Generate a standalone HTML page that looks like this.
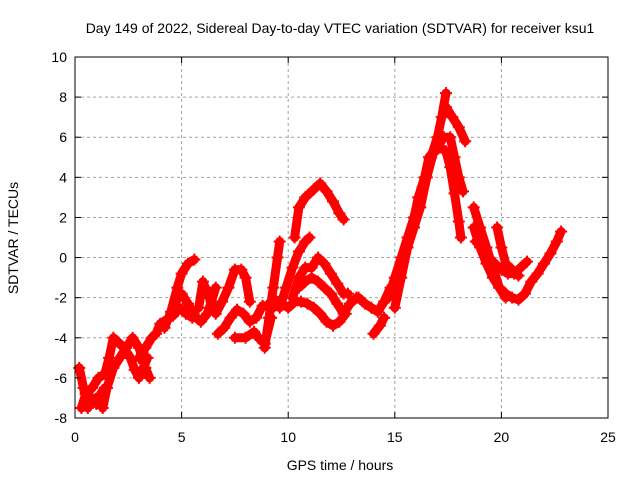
<!DOCTYPE html>
<html><head><meta charset="utf-8"><style>
body{margin:0;background:#fff}
svg{display:block;font-family:"Liberation Sans",sans-serif}
</style></head><body>
<svg id="chart" width="640" height="480">
<rect width="640" height="480" fill="#fff"/>
<text x="340" y="33" font-size="14" text-anchor="middle">Day 149 of 2022, Sidereal Day-to-day VTEC variation (SDTVAR) for receiver ksu1</text>
<text x="340" y="470" font-size="14" text-anchor="middle">GPS time / hours</text>
<text transform="translate(18,238) rotate(-90)" font-size="14" text-anchor="middle">SDTVAR / TECUs</text>
<g id="grid"></g><g id="series"></g><g id="axes"></g>
</svg>
<script>
const xTicks=[0,5,10,15,20,25];
const yTicks=[-8,-6,-4,-2,0,2,4,6,8,10];
const trackTimes=[
[0.2,0.4,0.6,0.8,1.0,1.2,1.4],
[0.3,0.5,0.8,1.1,1.4,1.6,1.8,2.0,2.3,2.6,2.8,3.0,3.2,3.4],
[1.3,1.5,1.8,2.1,2.4,2.7,3.0,3.3,3.5],
[3.0,3.3,3.6,3.8,4.0,4.3,4.6,4.9,5.2,5.5],
[4.2,4.5,4.8,5.0,5.3,5.6],
[4.6,4.8,5.0,5.3,5.6,5.9,6.2,6.4,6.6],
[5.8,6.0,6.3,6.6,6.9,7.2,7.5,7.8,8.0,8.2],
[6.7,7.0,7.3,7.6,7.9,8.2,8.5,8.8,9.0,9.3],
[7.5,8.0,8.4,8.6,8.9,9.2],
[8.9,9.1,9.3,9.5,9.6],
[9.4,9.7,10.0,10.3,10.6,10.9,11.2,11.5,11.8,12.1,12.4,12.7],
[10.3,10.5,10.8,11.2,11.5,11.8,12.1,12.4,12.6],
[9.6,9.9,10.2,10.5,10.8,11.0],
[10.2,10.5,10.8,11.1,11.4,11.7,12.0,12.3,12.6,12.8],
[10.5,10.8,11.1,11.4,11.7,12.0,12.3,12.6,12.9,13.2],
[13.3,13.6,13.9,14.2,14.5,14.8],
[14.0,14.3,14.5],
[14.7,15.0,15.3,15.6,15.9,16.1,16.4,16.7,17.0,17.2,17.4],
[15.0,15.3,15.6,15.9,16.2,16.5,16.8,17.1,17.4,17.6,17.8,18.0,18.1],
[16.3,16.6,17.0,17.3,17.6,17.8,18.0,18.2],
[17.4,17.7,18.0,18.3],
[18.7,19.0,19.3,19.6,19.9,20.2],
[18.7,19.0,19.3,19.6,19.9,20.2,20.5,20.8,21.1,21.4,21.7,22.0,22.3,22.6,22.8],
[18.8,19.1,19.4,19.7,20.0,20.3,20.6,20.9,21.2],
[19.8,20.0,20.2,20.5,20.8]
];
const trackValues=[
[-5.5,-6.5,-7.5,-7,-7.3,-6.8,-6.5],
[-7.5,-6.8,-6.5,-6,-5.8,-5,-4,-4.2,-4.5,-5,-5.6,-6,-5.5,-5],
[-7.5,-6.5,-5.5,-5,-4.5,-4,-4.5,-5.5,-6],
[-5,-4.5,-4,-3.8,-3.3,-3.1,-2.9,-2.5,-2.8,-3.0],
[-3.5,-2.7,-1.5,-0.8,-0.3,-0.1],
[-2.8,-2,-1.8,-2.3,-2.9,-3.2,-2.8,-2.2,-1.5],
[-2.5,-1.2,-2,-2.8,-2.2,-1.5,-0.6,-0.6,-1.0,-2.2],
[-3.8,-3.5,-3,-2.6,-2.8,-3.2,-3,-2.4,-2.4,-2.5],
[-4.0,-4.0,-3.7,-4,-4.3,-3],
[-4.5,-3,-1.5,0,0.8],
[-2.1,-2.3,-2.5,-2.2,-2.2,-2.3,-2.5,-2.8,-3.2,-3.4,-3.2,-2.8],
[1.0,2.5,3.0,3.4,3.7,3.3,2.8,2.2,1.9],
[-2.5,-1.5,-0.5,0.3,0.8,1.0],
[-2.0,-1.0,-0.5,-0.5,0.0,-0.3,-0.8,-1.3,-1.8,-1.8],
[-1.5,-1.2,-1.0,-1.2,-1.5,-1.8,-2.3,-2.8,-2.3,-2.0],
[-2.0,-2.3,-2.5,-2.7,-2.2,-1.5],
[-3.8,-3.4,-3],
[-2.0,-1.0,0,1.0,2.0,3.0,4.0,5.0,6.0,7.0,8.2],
[-2.5,-1.0,0.5,1.5,2.5,4.0,5.2,5.5,5.3,4.5,3.2,1.8,1.0],
[3.5,5.0,5.5,6.0,6.0,5.0,4.0,3.3],
[7.5,7.0,6.5,5.8],
[2.5,1.5,0.5,-0.5,-1.5,-2.0],
[1.5,0.5,-0.3,-1,-1.5,-1.8,-2.0,-2.1,-1.8,-1.2,-0.8,-0.3,0.2,0.8,1.3],
[0.8,0.5,0,-0.3,-0.6,-0.8,-0.8,-0.5,-0.2],
[1.5,0.5,-0.3,-0.6,-0.9]
];
const L=75,R=608,T=57,B=418;
const sx=t=>L+(t-0)/(25-0)*(R-L);
const sy=v=>B-(v+8)/(10+8)*(B-T);
const NS="http://www.w3.org/2000/svg";
function mk(tag,attrs,parent){const e=document.createElementNS(NS,tag);for(const k in attrs)e.setAttribute(k,attrs[k]);parent.appendChild(e);return e;}
const grid=document.getElementById('grid'),axes=document.getElementById('axes'),ser=document.getElementById('series');
xTicks.forEach(t=>{
  const x=sx(t);
  if(t>0&&t<25){const g=mk('line',{x1:x,x2:x,y1:T,y2:B,stroke:'#a0a0a0','stroke-dasharray':'3,3'},grid);
  
  }
  mk('line',{x1:x,x2:x,y1:B,y2:B-6,stroke:'#000'},axes);
  mk('line',{x1:x,x2:x,y1:T,y2:T+6,stroke:'#000'},axes);
  const lb=mk('text',{x:x,y:B+24,'font-size':14,'text-anchor':'middle'},axes);lb.textContent=t;
  
  
});
yTicks.forEach(v=>{
  const y=sy(v);
  if(v>-8&&v<10){const g=mk('line',{x1:L,x2:R,y1:y,y2:y,stroke:'#a0a0a0','stroke-dasharray':'3,3'},grid);
  
  }
  mk('line',{x1:L,x2:L+6,y1:y,y2:y,stroke:'#000'},axes);
  mk('line',{x1:R,x2:R-6,y1:y,y2:y,stroke:'#000'},axes);
  const lb=mk('text',{x:L-8,y:y+5,'font-size':14,'text-anchor':'end'},axes);lb.textContent=v;
  
  
});
const fr=mk('rect',{x:L,y:T,width:R-L,height:B-T,fill:'none',stroke:'#000'},axes);


trackTimes.forEach((ts,i)=>{
  const vs=trackValues[i];
  const g=mk('g',{},ser);
  
  
  const d=ts.map((t,j)=>(j?'L':'M')+sx(t).toFixed(1)+','+sy(vs[j]).toFixed(1)).join('');
  mk('path',{d:d,fill:'none',stroke:'#ff0000','stroke-width':9,'stroke-linejoin':'round','stroke-linecap':'round'},g);
  ts.forEach((t,j)=>{
    const x=sx(t),y=sy(vs[j]);
    const p=mk('path',{d:`M${x-6},${y}H${x+6}M${x},${y-6}V${y+6}`,stroke:'#ff0000','stroke-width':2},g);
    
    
  });
});
</script>
</body></html>
